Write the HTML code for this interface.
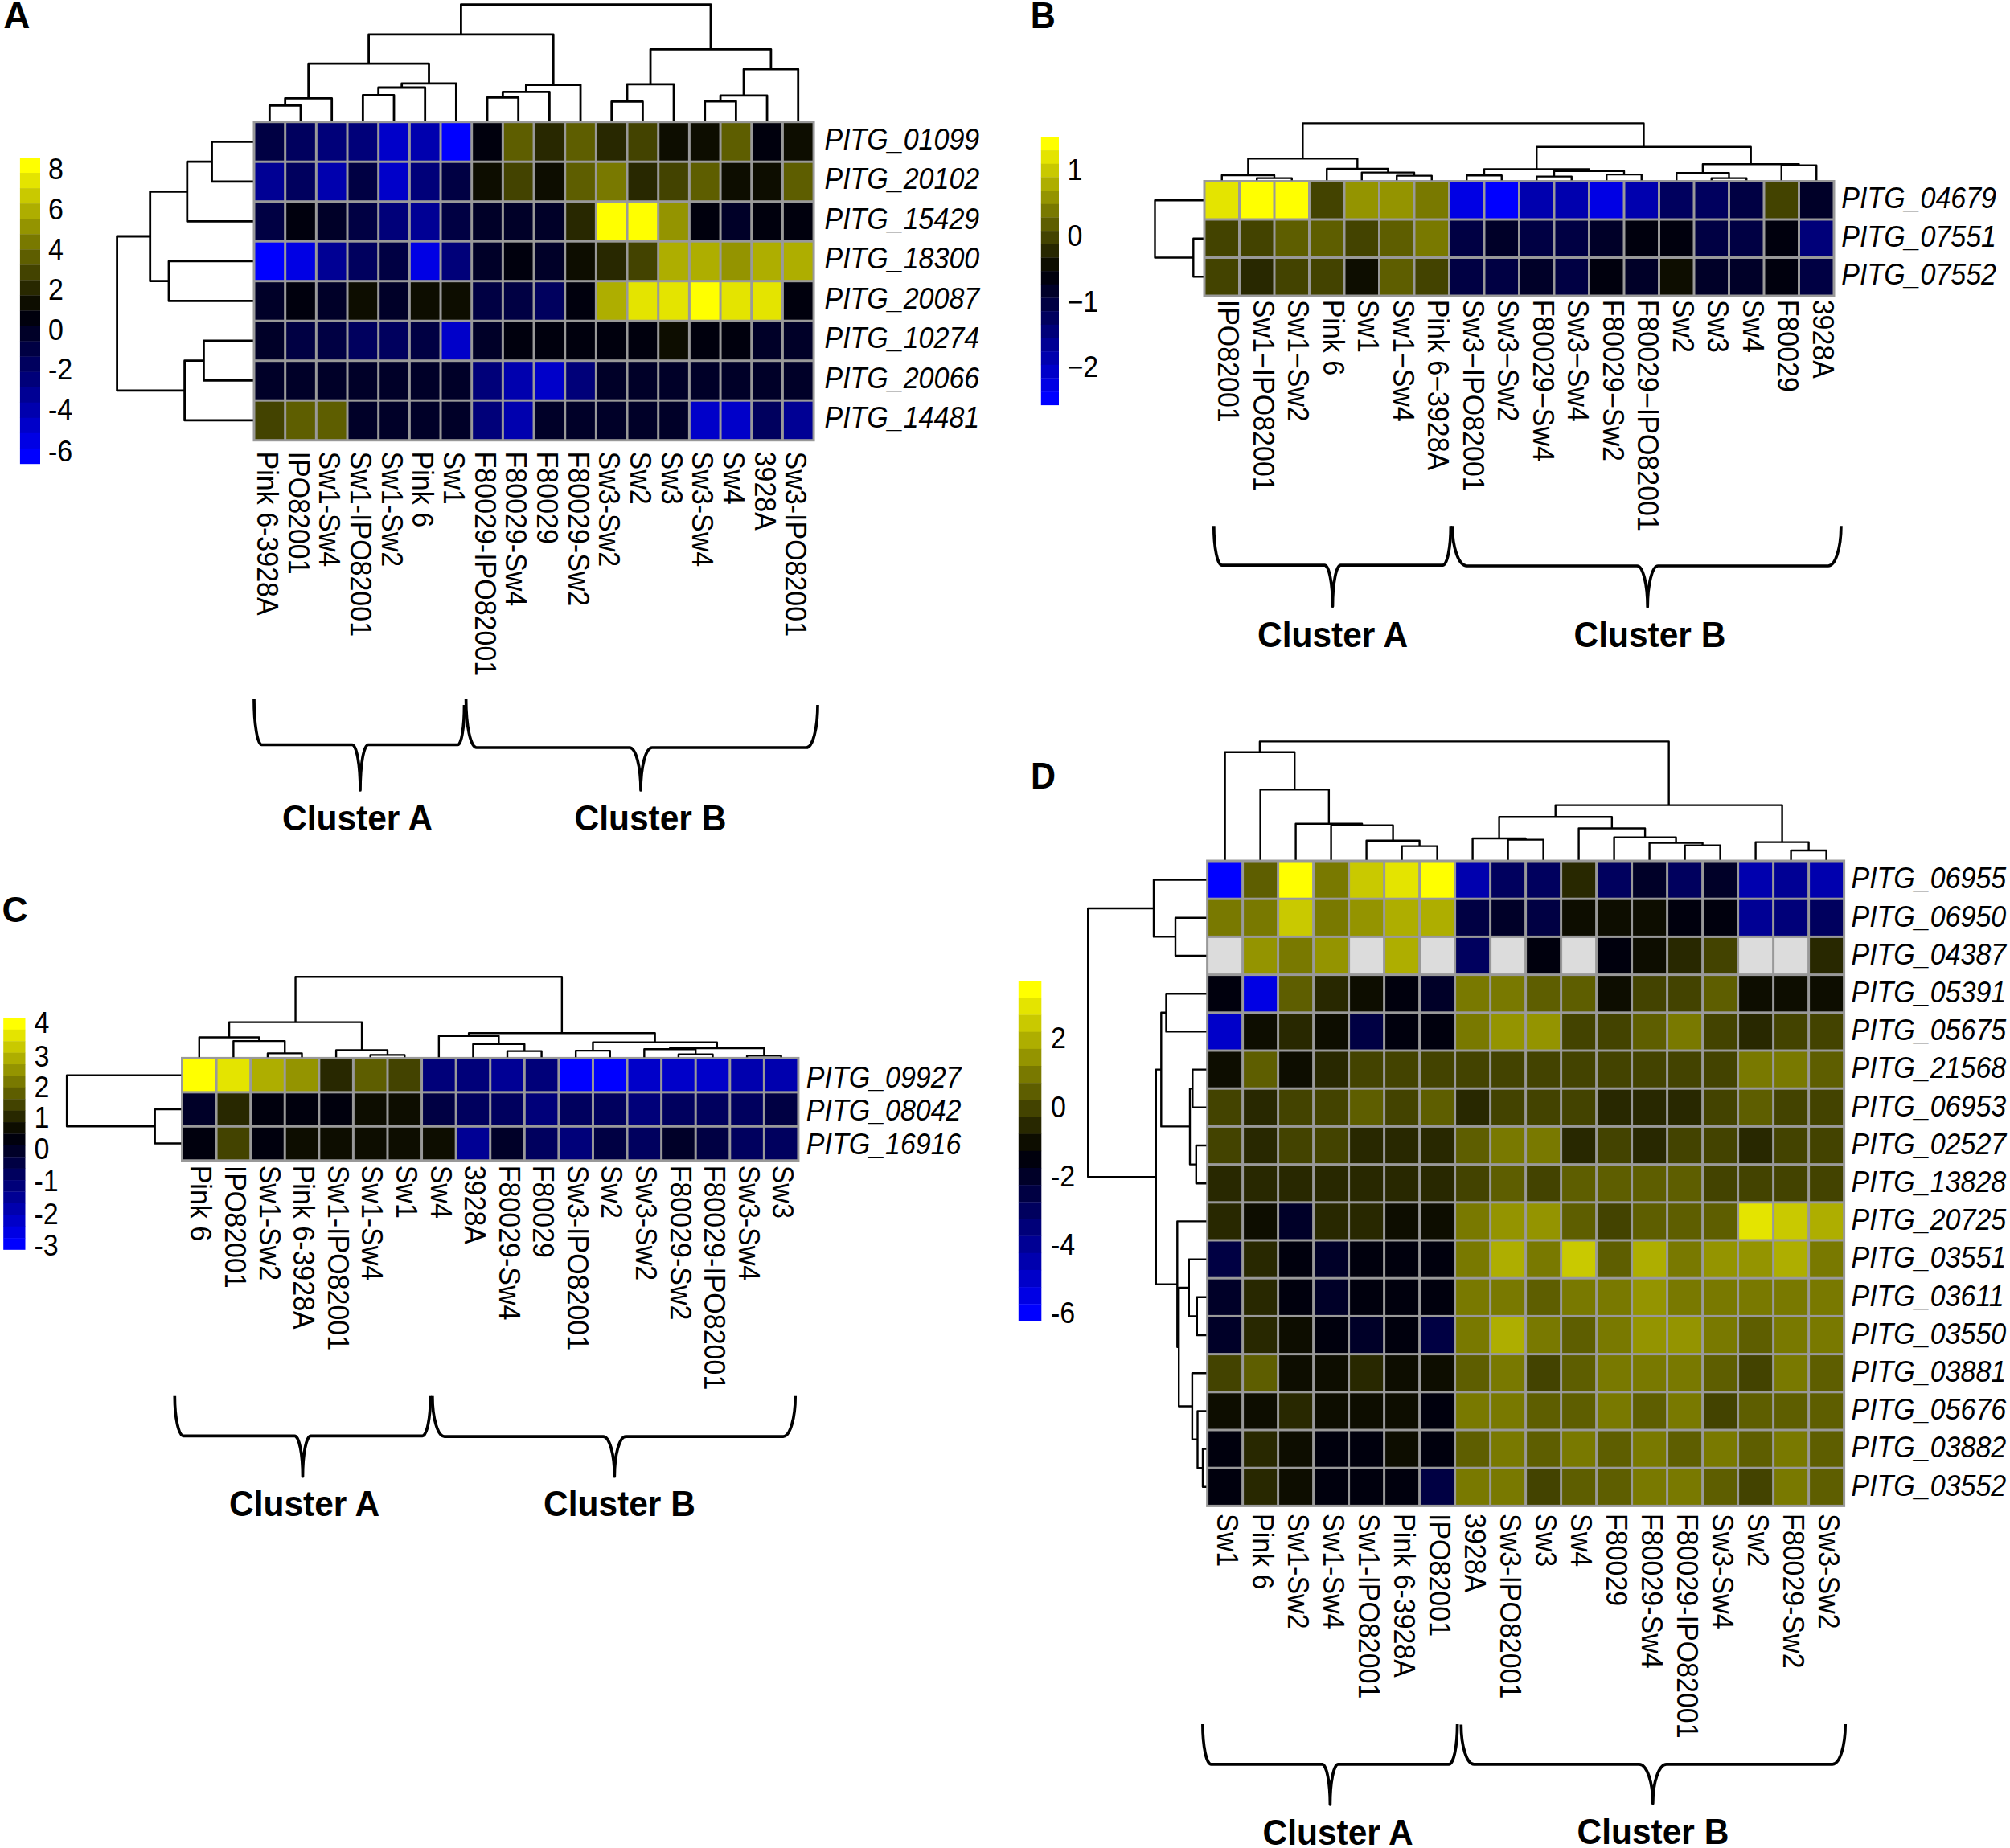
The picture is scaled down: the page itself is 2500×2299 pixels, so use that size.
<!DOCTYPE html>
<html><head><meta charset="utf-8"><title>Heatmaps</title>
<style>
html,body{margin:0;padding:0;background:#fff;}
body{width:2500px;height:2299px;overflow:hidden;}
svg{display:block;}
text{font-family:"Liberation Sans",Arial,sans-serif;fill:#000;}
</style></head><body>
<svg width="2500" height="2299" viewBox="0 0 2500 2299">
<rect width="2500" height="2299" fill="#fff"/>
<rect x="314.50" y="150.20" width="699.06" height="399.00" fill="#999999"/>
<rect x="317.50" y="153.20" width="35.67" height="46.50" fill="#000043"/>
<rect x="356.17" y="153.20" width="35.67" height="46.50" fill="#00005e"/>
<rect x="394.84" y="153.20" width="35.67" height="46.50" fill="#000079"/>
<rect x="433.51" y="153.20" width="35.67" height="46.50" fill="#000079"/>
<rect x="472.18" y="153.20" width="35.67" height="46.50" fill="#0000c9"/>
<rect x="510.85" y="153.20" width="35.67" height="46.50" fill="#0000ae"/>
<rect x="549.52" y="153.20" width="35.67" height="46.50" fill="#0000ff"/>
<rect x="588.19" y="153.20" width="35.67" height="46.50" fill="#00000d"/>
<rect x="626.86" y="153.20" width="35.67" height="46.50" fill="#5e5e00"/>
<rect x="665.53" y="153.20" width="35.67" height="46.50" fill="#282800"/>
<rect x="704.20" y="153.20" width="35.67" height="46.50" fill="#5e5e00"/>
<rect x="742.87" y="153.20" width="35.67" height="46.50" fill="#282800"/>
<rect x="781.54" y="153.20" width="35.67" height="46.50" fill="#434300"/>
<rect x="820.21" y="153.20" width="35.67" height="46.50" fill="#0d0d00"/>
<rect x="858.88" y="153.20" width="35.67" height="46.50" fill="#0d0d00"/>
<rect x="897.55" y="153.20" width="35.67" height="46.50" fill="#5e5e00"/>
<rect x="936.22" y="153.20" width="35.67" height="46.50" fill="#00000d"/>
<rect x="974.89" y="153.20" width="35.67" height="46.50" fill="#0d0d00"/>
<rect x="317.50" y="202.70" width="35.67" height="46.50" fill="#000094"/>
<rect x="356.17" y="202.70" width="35.67" height="46.50" fill="#00005e"/>
<rect x="394.84" y="202.70" width="35.67" height="46.50" fill="#0000ae"/>
<rect x="433.51" y="202.70" width="35.67" height="46.50" fill="#000043"/>
<rect x="472.18" y="202.70" width="35.67" height="46.50" fill="#0000c9"/>
<rect x="510.85" y="202.70" width="35.67" height="46.50" fill="#000079"/>
<rect x="549.52" y="202.70" width="35.67" height="46.50" fill="#000043"/>
<rect x="588.19" y="202.70" width="35.67" height="46.50" fill="#0d0d00"/>
<rect x="626.86" y="202.70" width="35.67" height="46.50" fill="#434300"/>
<rect x="665.53" y="202.70" width="35.67" height="46.50" fill="#0d0d00"/>
<rect x="704.20" y="202.70" width="35.67" height="46.50" fill="#5e5e00"/>
<rect x="742.87" y="202.70" width="35.67" height="46.50" fill="#797900"/>
<rect x="781.54" y="202.70" width="35.67" height="46.50" fill="#282800"/>
<rect x="820.21" y="202.70" width="35.67" height="46.50" fill="#434300"/>
<rect x="858.88" y="202.70" width="35.67" height="46.50" fill="#5e5e00"/>
<rect x="897.55" y="202.70" width="35.67" height="46.50" fill="#0d0d00"/>
<rect x="936.22" y="202.70" width="35.67" height="46.50" fill="#0d0d00"/>
<rect x="974.89" y="202.70" width="35.67" height="46.50" fill="#5e5e00"/>
<rect x="317.50" y="252.20" width="35.67" height="46.50" fill="#000043"/>
<rect x="356.17" y="252.20" width="35.67" height="46.50" fill="#00000d"/>
<rect x="394.84" y="252.20" width="35.67" height="46.50" fill="#000028"/>
<rect x="433.51" y="252.20" width="35.67" height="46.50" fill="#000043"/>
<rect x="472.18" y="252.20" width="35.67" height="46.50" fill="#000079"/>
<rect x="510.85" y="252.20" width="35.67" height="46.50" fill="#000094"/>
<rect x="549.52" y="252.20" width="35.67" height="46.50" fill="#000043"/>
<rect x="588.19" y="252.20" width="35.67" height="46.50" fill="#000028"/>
<rect x="626.86" y="252.20" width="35.67" height="46.50" fill="#000028"/>
<rect x="665.53" y="252.20" width="35.67" height="46.50" fill="#000028"/>
<rect x="704.20" y="252.20" width="35.67" height="46.50" fill="#282800"/>
<rect x="742.87" y="252.20" width="35.67" height="46.50" fill="#ffff00"/>
<rect x="781.54" y="252.20" width="35.67" height="46.50" fill="#ffff00"/>
<rect x="820.21" y="252.20" width="35.67" height="46.50" fill="#949400"/>
<rect x="858.88" y="252.20" width="35.67" height="46.50" fill="#00000d"/>
<rect x="897.55" y="252.20" width="35.67" height="46.50" fill="#000028"/>
<rect x="936.22" y="252.20" width="35.67" height="46.50" fill="#00000d"/>
<rect x="974.89" y="252.20" width="35.67" height="46.50" fill="#00000d"/>
<rect x="317.50" y="301.70" width="35.67" height="46.50" fill="#0000ff"/>
<rect x="356.17" y="301.70" width="35.67" height="46.50" fill="#0000e4"/>
<rect x="394.84" y="301.70" width="35.67" height="46.50" fill="#000094"/>
<rect x="433.51" y="301.70" width="35.67" height="46.50" fill="#00005e"/>
<rect x="472.18" y="301.70" width="35.67" height="46.50" fill="#000043"/>
<rect x="510.85" y="301.70" width="35.67" height="46.50" fill="#0000e4"/>
<rect x="549.52" y="301.70" width="35.67" height="46.50" fill="#000079"/>
<rect x="588.19" y="301.70" width="35.67" height="46.50" fill="#000028"/>
<rect x="626.86" y="301.70" width="35.67" height="46.50" fill="#00000d"/>
<rect x="665.53" y="301.70" width="35.67" height="46.50" fill="#000028"/>
<rect x="704.20" y="301.70" width="35.67" height="46.50" fill="#0d0d00"/>
<rect x="742.87" y="301.70" width="35.67" height="46.50" fill="#282800"/>
<rect x="781.54" y="301.70" width="35.67" height="46.50" fill="#434300"/>
<rect x="820.21" y="301.70" width="35.67" height="46.50" fill="#aeae00"/>
<rect x="858.88" y="301.70" width="35.67" height="46.50" fill="#aeae00"/>
<rect x="897.55" y="301.70" width="35.67" height="46.50" fill="#949400"/>
<rect x="936.22" y="301.70" width="35.67" height="46.50" fill="#aeae00"/>
<rect x="974.89" y="301.70" width="35.67" height="46.50" fill="#aeae00"/>
<rect x="317.50" y="351.20" width="35.67" height="46.50" fill="#000028"/>
<rect x="356.17" y="351.20" width="35.67" height="46.50" fill="#00000d"/>
<rect x="394.84" y="351.20" width="35.67" height="46.50" fill="#000028"/>
<rect x="433.51" y="351.20" width="35.67" height="46.50" fill="#0d0d00"/>
<rect x="472.18" y="351.20" width="35.67" height="46.50" fill="#000028"/>
<rect x="510.85" y="351.20" width="35.67" height="46.50" fill="#0d0d00"/>
<rect x="549.52" y="351.20" width="35.67" height="46.50" fill="#0d0d00"/>
<rect x="588.19" y="351.20" width="35.67" height="46.50" fill="#000043"/>
<rect x="626.86" y="351.20" width="35.67" height="46.50" fill="#000043"/>
<rect x="665.53" y="351.20" width="35.67" height="46.50" fill="#00005e"/>
<rect x="704.20" y="351.20" width="35.67" height="46.50" fill="#00000d"/>
<rect x="742.87" y="351.20" width="35.67" height="46.50" fill="#aeae00"/>
<rect x="781.54" y="351.20" width="35.67" height="46.50" fill="#e4e400"/>
<rect x="820.21" y="351.20" width="35.67" height="46.50" fill="#e4e400"/>
<rect x="858.88" y="351.20" width="35.67" height="46.50" fill="#ffff00"/>
<rect x="897.55" y="351.20" width="35.67" height="46.50" fill="#e4e400"/>
<rect x="936.22" y="351.20" width="35.67" height="46.50" fill="#e4e400"/>
<rect x="974.89" y="351.20" width="35.67" height="46.50" fill="#00000d"/>
<rect x="317.50" y="400.70" width="35.67" height="46.50" fill="#000028"/>
<rect x="356.17" y="400.70" width="35.67" height="46.50" fill="#000043"/>
<rect x="394.84" y="400.70" width="35.67" height="46.50" fill="#000043"/>
<rect x="433.51" y="400.70" width="35.67" height="46.50" fill="#00005e"/>
<rect x="472.18" y="400.70" width="35.67" height="46.50" fill="#00005e"/>
<rect x="510.85" y="400.70" width="35.67" height="46.50" fill="#000043"/>
<rect x="549.52" y="400.70" width="35.67" height="46.50" fill="#0000c9"/>
<rect x="588.19" y="400.70" width="35.67" height="46.50" fill="#000028"/>
<rect x="626.86" y="400.70" width="35.67" height="46.50" fill="#00000d"/>
<rect x="665.53" y="400.70" width="35.67" height="46.50" fill="#00000d"/>
<rect x="704.20" y="400.70" width="35.67" height="46.50" fill="#00000d"/>
<rect x="742.87" y="400.70" width="35.67" height="46.50" fill="#00000d"/>
<rect x="781.54" y="400.70" width="35.67" height="46.50" fill="#00000d"/>
<rect x="820.21" y="400.70" width="35.67" height="46.50" fill="#0d0d00"/>
<rect x="858.88" y="400.70" width="35.67" height="46.50" fill="#00000d"/>
<rect x="897.55" y="400.70" width="35.67" height="46.50" fill="#00000d"/>
<rect x="936.22" y="400.70" width="35.67" height="46.50" fill="#000028"/>
<rect x="974.89" y="400.70" width="35.67" height="46.50" fill="#000028"/>
<rect x="317.50" y="450.20" width="35.67" height="46.50" fill="#000028"/>
<rect x="356.17" y="450.20" width="35.67" height="46.50" fill="#000028"/>
<rect x="394.84" y="450.20" width="35.67" height="46.50" fill="#000028"/>
<rect x="433.51" y="450.20" width="35.67" height="46.50" fill="#000028"/>
<rect x="472.18" y="450.20" width="35.67" height="46.50" fill="#000028"/>
<rect x="510.85" y="450.20" width="35.67" height="46.50" fill="#000028"/>
<rect x="549.52" y="450.20" width="35.67" height="46.50" fill="#000028"/>
<rect x="588.19" y="450.20" width="35.67" height="46.50" fill="#000079"/>
<rect x="626.86" y="450.20" width="35.67" height="46.50" fill="#0000ae"/>
<rect x="665.53" y="450.20" width="35.67" height="46.50" fill="#0000c9"/>
<rect x="704.20" y="450.20" width="35.67" height="46.50" fill="#000079"/>
<rect x="742.87" y="450.20" width="35.67" height="46.50" fill="#000028"/>
<rect x="781.54" y="450.20" width="35.67" height="46.50" fill="#000028"/>
<rect x="820.21" y="450.20" width="35.67" height="46.50" fill="#000028"/>
<rect x="858.88" y="450.20" width="35.67" height="46.50" fill="#000028"/>
<rect x="897.55" y="450.20" width="35.67" height="46.50" fill="#000028"/>
<rect x="936.22" y="450.20" width="35.67" height="46.50" fill="#000028"/>
<rect x="974.89" y="450.20" width="35.67" height="46.50" fill="#000028"/>
<rect x="317.50" y="499.70" width="35.67" height="46.50" fill="#434300"/>
<rect x="356.17" y="499.70" width="35.67" height="46.50" fill="#5e5e00"/>
<rect x="394.84" y="499.70" width="35.67" height="46.50" fill="#5e5e00"/>
<rect x="433.51" y="499.70" width="35.67" height="46.50" fill="#000028"/>
<rect x="472.18" y="499.70" width="35.67" height="46.50" fill="#000028"/>
<rect x="510.85" y="499.70" width="35.67" height="46.50" fill="#000028"/>
<rect x="549.52" y="499.70" width="35.67" height="46.50" fill="#000028"/>
<rect x="588.19" y="499.70" width="35.67" height="46.50" fill="#000079"/>
<rect x="626.86" y="499.70" width="35.67" height="46.50" fill="#0000ae"/>
<rect x="665.53" y="499.70" width="35.67" height="46.50" fill="#000028"/>
<rect x="704.20" y="499.70" width="35.67" height="46.50" fill="#000028"/>
<rect x="742.87" y="499.70" width="35.67" height="46.50" fill="#000028"/>
<rect x="781.54" y="499.70" width="35.67" height="46.50" fill="#000028"/>
<rect x="820.21" y="499.70" width="35.67" height="46.50" fill="#000028"/>
<rect x="858.88" y="499.70" width="35.67" height="46.50" fill="#0000c9"/>
<rect x="897.55" y="499.70" width="35.67" height="46.50" fill="#0000c9"/>
<rect x="936.22" y="499.70" width="35.67" height="46.50" fill="#00005e"/>
<rect x="974.89" y="499.70" width="35.67" height="46.50" fill="#000094"/>
<path d="M335.33,150.45V131.30H374.00V150.45M354.67,131.30V122.40H412.68V150.45M451.35,150.45V118.40H490.01V150.45M470.68,118.40V109.00H528.68V150.45M499.68,109.00V103.90H567.36V150.45M383.67,122.40V79.20H533.52V103.90M606.03,150.45V121.40H644.69V150.45M625.36,121.40V114.40H683.37V150.45M654.36,114.40V105.50H722.04V150.45M458.60,79.20V42.80H688.20V105.50M760.71,150.45V126.40H799.38V150.45M780.04,126.40V104.90H838.05V150.45M876.72,150.45V126.00H915.38V150.45M896.05,126.00V118.80H954.06V150.45M925.05,118.80V86.20H992.73V150.45M809.04,104.90V61.30H958.89V86.20M573.40,42.80V5.60H883.97V61.30" fill="none" stroke="#000" stroke-width="2.8" stroke-linejoin="round" stroke-linecap="butt"/>
<path d="M314.75,176.45H263.50V225.95H314.75M263.50,201.20H232.80V275.45H314.75M314.75,324.95H210.00V374.45H314.75M232.80,238.32H186.70V349.70H210.00M314.75,423.95H253.40V473.45H314.75M253.40,448.70H229.60V522.95H314.75M186.70,294.01H145.60V485.83H229.60" fill="none" stroke="#000" stroke-width="2.8" stroke-linejoin="round" stroke-linecap="butt"/>
<text transform="translate(1025.50,185.75) scale(1,1.06)" font-size="34" font-style="italic">PITG_01099</text>
<text transform="translate(1025.50,235.25) scale(1,1.06)" font-size="34" font-style="italic">PITG_20102</text>
<text transform="translate(1025.50,284.75) scale(1,1.06)" font-size="34" font-style="italic">PITG_15429</text>
<text transform="translate(1025.50,334.25) scale(1,1.06)" font-size="34" font-style="italic">PITG_18300</text>
<text transform="translate(1025.50,383.75) scale(1,1.06)" font-size="34" font-style="italic">PITG_20087</text>
<text transform="translate(1025.50,433.25) scale(1,1.06)" font-size="34" font-style="italic">PITG_10274</text>
<text transform="translate(1025.50,482.75) scale(1,1.06)" font-size="34" font-style="italic">PITG_20066</text>
<text transform="translate(1025.50,532.25) scale(1,1.06)" font-size="34" font-style="italic">PITG_14481</text>
<text transform="translate(319.94,561.60) rotate(90) scale(1,1.06)" font-size="34">Pink 6-3928A</text>
<text transform="translate(358.61,561.60) rotate(90) scale(1,1.06)" font-size="34">IPO82001</text>
<text transform="translate(397.28,561.60) rotate(90) scale(1,1.06)" font-size="34">Sw1-Sw4</text>
<text transform="translate(435.95,561.60) rotate(90) scale(1,1.06)" font-size="34">Sw1-IPO82001</text>
<text transform="translate(474.62,561.60) rotate(90) scale(1,1.06)" font-size="34">Sw1-Sw2</text>
<text transform="translate(513.28,561.60) rotate(90) scale(1,1.06)" font-size="34">Pink 6</text>
<text transform="translate(551.96,561.60) rotate(90) scale(1,1.06)" font-size="34">Sw1</text>
<text transform="translate(590.63,561.60) rotate(90) scale(1,1.06)" font-size="34">F80029-IPO82001</text>
<text transform="translate(629.29,561.60) rotate(90) scale(1,1.06)" font-size="34">F80029-Sw4</text>
<text transform="translate(667.97,561.60) rotate(90) scale(1,1.06)" font-size="34">F80029</text>
<text transform="translate(706.64,561.60) rotate(90) scale(1,1.06)" font-size="34">F80029-Sw2</text>
<text transform="translate(745.31,561.60) rotate(90) scale(1,1.06)" font-size="34">Sw3-Sw2</text>
<text transform="translate(783.98,561.60) rotate(90) scale(1,1.06)" font-size="34">Sw2</text>
<text transform="translate(822.65,561.60) rotate(90) scale(1,1.06)" font-size="34">Sw3</text>
<text transform="translate(861.32,561.60) rotate(90) scale(1,1.06)" font-size="34">Sw3-Sw4</text>
<text transform="translate(899.99,561.60) rotate(90) scale(1,1.06)" font-size="34">Sw4</text>
<text transform="translate(938.66,561.60) rotate(90) scale(1,1.06)" font-size="34">3928A</text>
<text transform="translate(977.33,561.60) rotate(90) scale(1,1.06)" font-size="34">Sw3-IPO82001</text>
<rect x="24.90" y="196.00" width="25.10" height="19.34" fill="#ffff00"/>
<rect x="24.90" y="215.04" width="25.10" height="19.34" fill="#e4e400"/>
<rect x="24.90" y="234.09" width="25.10" height="19.34" fill="#c9c900"/>
<rect x="24.90" y="253.13" width="25.10" height="19.34" fill="#aeae00"/>
<rect x="24.90" y="272.18" width="25.10" height="19.34" fill="#949400"/>
<rect x="24.90" y="291.23" width="25.10" height="19.34" fill="#797900"/>
<rect x="24.90" y="310.27" width="25.10" height="19.34" fill="#5e5e00"/>
<rect x="24.90" y="329.31" width="25.10" height="19.34" fill="#434300"/>
<rect x="24.90" y="348.36" width="25.10" height="19.34" fill="#282800"/>
<rect x="24.90" y="367.40" width="25.10" height="19.34" fill="#0d0d00"/>
<rect x="24.90" y="386.45" width="25.10" height="19.34" fill="#00000d"/>
<rect x="24.90" y="405.50" width="25.10" height="19.34" fill="#000028"/>
<rect x="24.90" y="424.54" width="25.10" height="19.34" fill="#000043"/>
<rect x="24.90" y="443.58" width="25.10" height="19.34" fill="#00005e"/>
<rect x="24.90" y="462.63" width="25.10" height="19.34" fill="#000079"/>
<rect x="24.90" y="481.67" width="25.10" height="19.34" fill="#000094"/>
<rect x="24.90" y="500.72" width="25.10" height="19.34" fill="#0000ae"/>
<rect x="24.90" y="519.76" width="25.10" height="19.34" fill="#0000c9"/>
<rect x="24.90" y="538.81" width="25.10" height="19.34" fill="#0000e4"/>
<rect x="24.90" y="557.86" width="25.10" height="19.34" fill="#0000ff"/>
<text transform="translate(60.00,223.43) scale(1,1.06)" font-size="34">8</text>
<text transform="translate(60.00,273.43) scale(1,1.06)" font-size="34">6</text>
<text transform="translate(60.00,322.93) scale(1,1.06)" font-size="34">4</text>
<text transform="translate(60.00,372.83) scale(1,1.06)" font-size="34">2</text>
<text transform="translate(60.00,422.73) scale(1,1.06)" font-size="34">0</text>
<text transform="translate(60.00,472.43) scale(1,1.06)" font-size="34">-2</text>
<text transform="translate(60.00,521.93) scale(1,1.06)" font-size="34">-4</text>
<text transform="translate(60.00,574.13) scale(1,1.06)" font-size="34">-6</text>
<text transform="translate(4.2,34.8) scale(1.07,1.07)" font-size="43" font-weight="bold">A</text>
<path d="M316.00,870.00A9.50,56.50 0 0 0 325.50,926.50H438.00A10.00,56.50 0 0 1 448.00,983.00A10.00,56.50 0 0 1 458.00,926.50H569.50A8.00,49.50 0 0 0 577.50,877.00" fill="none" stroke="#000" stroke-width="3.7" stroke-linecap="butt" stroke-linejoin="round"/>
<path d="M579.60,870.00A13.00,60.00 0 0 0 592.60,930.00H783.00A14.00,53.00 0 0 1 797.00,983.00A14.00,53.00 0 0 1 811.00,930.00H1003.00A14.00,53.00 0 0 0 1017.00,877.00" fill="none" stroke="#000" stroke-width="3.7" stroke-linecap="butt" stroke-linejoin="round"/>
<text transform="translate(351.00,1032.80) scale(1,1.04)" font-size="42.5" font-weight="bold">Cluster A</text>
<text transform="translate(714.50,1032.80) scale(1,1.04)" font-size="42.5" font-weight="bold">Cluster B</text>
<rect x="1496.50" y="224.00" width="786.00" height="145.50" fill="#999999"/>
<rect x="1499.50" y="227.00" width="40.50" height="44.50" fill="#e4e400"/>
<rect x="1543.00" y="227.00" width="40.50" height="44.50" fill="#ffff00"/>
<rect x="1586.50" y="227.00" width="40.50" height="44.50" fill="#ffff00"/>
<rect x="1630.00" y="227.00" width="40.50" height="44.50" fill="#434300"/>
<rect x="1673.50" y="227.00" width="40.50" height="44.50" fill="#949400"/>
<rect x="1717.00" y="227.00" width="40.50" height="44.50" fill="#949400"/>
<rect x="1760.50" y="227.00" width="40.50" height="44.50" fill="#797900"/>
<rect x="1804.00" y="227.00" width="40.50" height="44.50" fill="#0000e4"/>
<rect x="1847.50" y="227.00" width="40.50" height="44.50" fill="#0000ff"/>
<rect x="1891.00" y="227.00" width="40.50" height="44.50" fill="#0000ae"/>
<rect x="1934.50" y="227.00" width="40.50" height="44.50" fill="#0000ae"/>
<rect x="1978.00" y="227.00" width="40.50" height="44.50" fill="#0000e4"/>
<rect x="2021.50" y="227.00" width="40.50" height="44.50" fill="#0000ae"/>
<rect x="2065.00" y="227.00" width="40.50" height="44.50" fill="#00005e"/>
<rect x="2108.50" y="227.00" width="40.50" height="44.50" fill="#00005e"/>
<rect x="2152.00" y="227.00" width="40.50" height="44.50" fill="#000043"/>
<rect x="2195.50" y="227.00" width="40.50" height="44.50" fill="#434300"/>
<rect x="2239.00" y="227.00" width="40.50" height="44.50" fill="#000028"/>
<rect x="1499.50" y="274.50" width="40.50" height="44.50" fill="#434300"/>
<rect x="1543.00" y="274.50" width="40.50" height="44.50" fill="#434300"/>
<rect x="1586.50" y="274.50" width="40.50" height="44.50" fill="#5e5e00"/>
<rect x="1630.00" y="274.50" width="40.50" height="44.50" fill="#5e5e00"/>
<rect x="1673.50" y="274.50" width="40.50" height="44.50" fill="#434300"/>
<rect x="1717.00" y="274.50" width="40.50" height="44.50" fill="#5e5e00"/>
<rect x="1760.50" y="274.50" width="40.50" height="44.50" fill="#797900"/>
<rect x="1804.00" y="274.50" width="40.50" height="44.50" fill="#000043"/>
<rect x="1847.50" y="274.50" width="40.50" height="44.50" fill="#000028"/>
<rect x="1891.00" y="274.50" width="40.50" height="44.50" fill="#000043"/>
<rect x="1934.50" y="274.50" width="40.50" height="44.50" fill="#000043"/>
<rect x="1978.00" y="274.50" width="40.50" height="44.50" fill="#000028"/>
<rect x="2021.50" y="274.50" width="40.50" height="44.50" fill="#00000d"/>
<rect x="2065.00" y="274.50" width="40.50" height="44.50" fill="#00000d"/>
<rect x="2108.50" y="274.50" width="40.50" height="44.50" fill="#000043"/>
<rect x="2152.00" y="274.50" width="40.50" height="44.50" fill="#000043"/>
<rect x="2195.50" y="274.50" width="40.50" height="44.50" fill="#00000d"/>
<rect x="2239.00" y="274.50" width="40.50" height="44.50" fill="#000079"/>
<rect x="1499.50" y="322.00" width="40.50" height="44.50" fill="#434300"/>
<rect x="1543.00" y="322.00" width="40.50" height="44.50" fill="#282800"/>
<rect x="1586.50" y="322.00" width="40.50" height="44.50" fill="#434300"/>
<rect x="1630.00" y="322.00" width="40.50" height="44.50" fill="#434300"/>
<rect x="1673.50" y="322.00" width="40.50" height="44.50" fill="#0d0d00"/>
<rect x="1717.00" y="322.00" width="40.50" height="44.50" fill="#5e5e00"/>
<rect x="1760.50" y="322.00" width="40.50" height="44.50" fill="#434300"/>
<rect x="1804.00" y="322.00" width="40.50" height="44.50" fill="#000043"/>
<rect x="1847.50" y="322.00" width="40.50" height="44.50" fill="#000043"/>
<rect x="1891.00" y="322.00" width="40.50" height="44.50" fill="#000028"/>
<rect x="1934.50" y="322.00" width="40.50" height="44.50" fill="#000043"/>
<rect x="1978.00" y="322.00" width="40.50" height="44.50" fill="#00000d"/>
<rect x="2021.50" y="322.00" width="40.50" height="44.50" fill="#000028"/>
<rect x="2065.00" y="322.00" width="40.50" height="44.50" fill="#0d0d00"/>
<rect x="2108.50" y="322.00" width="40.50" height="44.50" fill="#000028"/>
<rect x="2152.00" y="322.00" width="40.50" height="44.50" fill="#000028"/>
<rect x="2195.50" y="322.00" width="40.50" height="44.50" fill="#00000d"/>
<rect x="2239.00" y="322.00" width="40.50" height="44.50" fill="#000043"/>
<path d="M1563.25,224.25V221.60H1606.75V224.25M1519.75,224.25V218.00H1585.00V221.60M1737.25,224.25V218.60H1780.75V224.25M1693.75,224.25V214.60H1759.00V218.60M1650.25,224.25V210.00H1726.38V214.60M1552.38,218.00V197.30H1688.31V210.00M1824.25,224.25V218.20H1867.75V224.25M1911.25,224.25V219.60H1954.75V224.25M1998.25,224.25V217.10H2041.75V224.25M1933.00,219.60V212.80H2020.00V217.10M1846.00,218.20V210.40H1976.50V212.80M2128.75,224.25V221.60H2172.25V224.25M2085.25,224.25V215.10H2150.50V221.60M2215.75,224.25V205.70H2259.25V224.25M2117.88,215.10V204.30H2237.50V205.70M1911.25,210.40V182.80H2177.69V204.30M1620.34,197.30V153.40H2044.47V182.80" fill="none" stroke="#000" stroke-width="2.4" stroke-linejoin="round" stroke-linecap="butt"/>
<path d="M1496.75,296.75H1484.30V344.25H1496.75M1496.75,249.25H1436.50V320.50H1484.30" fill="none" stroke="#000" stroke-width="2.4" stroke-linejoin="round" stroke-linecap="butt"/>
<text transform="translate(2290.30,259.00) scale(1,1.06)" font-size="34" font-style="italic">PITG_04679</text>
<text transform="translate(2290.30,306.50) scale(1,1.06)" font-size="34" font-style="italic">PITG_07551</text>
<text transform="translate(2290.30,354.00) scale(1,1.06)" font-size="34" font-style="italic">PITG_07552</text>
<text transform="translate(1515.35,372.70) rotate(90) scale(1,1.06)" font-size="34">IPO82001</text>
<text transform="translate(1558.85,372.70) rotate(90) scale(1,1.06)" font-size="34">Sw1−IPO82001</text>
<text transform="translate(1602.35,372.70) rotate(90) scale(1,1.06)" font-size="34">Sw1−Sw2</text>
<text transform="translate(1645.85,372.70) rotate(90) scale(1,1.06)" font-size="34">Pink 6</text>
<text transform="translate(1689.35,372.70) rotate(90) scale(1,1.06)" font-size="34">Sw1</text>
<text transform="translate(1732.85,372.70) rotate(90) scale(1,1.06)" font-size="34">Sw1−Sw4</text>
<text transform="translate(1776.35,372.70) rotate(90) scale(1,1.06)" font-size="34">Pink 6−3928A</text>
<text transform="translate(1819.85,372.70) rotate(90) scale(1,1.06)" font-size="34">Sw3−IPO82001</text>
<text transform="translate(1863.35,372.70) rotate(90) scale(1,1.06)" font-size="34">Sw3−Sw2</text>
<text transform="translate(1906.85,372.70) rotate(90) scale(1,1.06)" font-size="34">F80029−Sw4</text>
<text transform="translate(1950.35,372.70) rotate(90) scale(1,1.06)" font-size="34">Sw3−Sw4</text>
<text transform="translate(1993.85,372.70) rotate(90) scale(1,1.06)" font-size="34">F80029−Sw2</text>
<text transform="translate(2037.35,372.70) rotate(90) scale(1,1.06)" font-size="34">F80029−IPO82001</text>
<text transform="translate(2080.85,372.70) rotate(90) scale(1,1.06)" font-size="34">Sw2</text>
<text transform="translate(2124.35,372.70) rotate(90) scale(1,1.06)" font-size="34">Sw3</text>
<text transform="translate(2167.85,372.70) rotate(90) scale(1,1.06)" font-size="34">Sw4</text>
<text transform="translate(2211.35,372.70) rotate(90) scale(1,1.06)" font-size="34">F80029</text>
<text transform="translate(2254.85,372.70) rotate(90) scale(1,1.06)" font-size="34">3928A</text>
<rect x="1294.80" y="170.40" width="22.20" height="16.97" fill="#ffff00"/>
<rect x="1294.80" y="187.07" width="22.20" height="16.97" fill="#e4e400"/>
<rect x="1294.80" y="203.74" width="22.20" height="16.97" fill="#c9c900"/>
<rect x="1294.80" y="220.41" width="22.20" height="16.97" fill="#aeae00"/>
<rect x="1294.80" y="237.08" width="22.20" height="16.97" fill="#949400"/>
<rect x="1294.80" y="253.75" width="22.20" height="16.97" fill="#797900"/>
<rect x="1294.80" y="270.42" width="22.20" height="16.97" fill="#5e5e00"/>
<rect x="1294.80" y="287.09" width="22.20" height="16.97" fill="#434300"/>
<rect x="1294.80" y="303.76" width="22.20" height="16.97" fill="#282800"/>
<rect x="1294.80" y="320.43" width="22.20" height="16.97" fill="#0d0d00"/>
<rect x="1294.80" y="337.10" width="22.20" height="16.97" fill="#00000d"/>
<rect x="1294.80" y="353.77" width="22.20" height="16.97" fill="#000028"/>
<rect x="1294.80" y="370.44" width="22.20" height="16.97" fill="#000043"/>
<rect x="1294.80" y="387.11" width="22.20" height="16.97" fill="#00005e"/>
<rect x="1294.80" y="403.78" width="22.20" height="16.97" fill="#000079"/>
<rect x="1294.80" y="420.45" width="22.20" height="16.97" fill="#000094"/>
<rect x="1294.80" y="437.12" width="22.20" height="16.97" fill="#0000ae"/>
<rect x="1294.80" y="453.79" width="22.20" height="16.97" fill="#0000c9"/>
<rect x="1294.80" y="470.46" width="22.20" height="16.97" fill="#0000e4"/>
<rect x="1294.80" y="487.13" width="22.20" height="16.97" fill="#0000ff"/>
<text transform="translate(1327.50,223.93) scale(1,1.06)" font-size="34">1</text>
<text transform="translate(1327.50,306.03) scale(1,1.06)" font-size="34">0</text>
<text transform="translate(1327.50,387.53) scale(1,1.06)" font-size="34">−1</text>
<text transform="translate(1327.50,468.53) scale(1,1.06)" font-size="34">−2</text>
<text transform="translate(1281.8,34.9) scale(1,1.09)" font-size="43" font-weight="bold">B</text>
<path d="M1509.80,654.30A10.00,48.90 0 0 0 1519.80,703.20H1647.50A10.00,51.00 0 0 1 1657.50,754.20A10.00,51.00 0 0 1 1667.50,703.20H1794.40A10.00,48.90 0 0 0 1804.40,654.30" fill="none" stroke="#000" stroke-width="3.7" stroke-linecap="butt" stroke-linejoin="round"/>
<path d="M1806.40,654.30A18.00,49.70 0 0 0 1824.40,704.00H2036.20A13.00,51.00 0 0 1 2049.20,755.00A13.00,51.00 0 0 1 2062.20,704.00H2273.90A16.00,49.70 0 0 0 2289.90,654.30" fill="none" stroke="#000" stroke-width="3.7" stroke-linecap="butt" stroke-linejoin="round"/>
<text transform="translate(1564.00,805.20) scale(1,1.04)" font-size="42.5" font-weight="bold">Cluster A</text>
<text transform="translate(1957.50,805.20) scale(1,1.04)" font-size="42.5" font-weight="bold">Cluster B</text>
<rect x="225.00" y="1314.90" width="769.44" height="130.35" fill="#999999"/>
<rect x="228.00" y="1317.90" width="39.58" height="39.45" fill="#ffff00"/>
<rect x="270.58" y="1317.90" width="39.58" height="39.45" fill="#e4e400"/>
<rect x="313.16" y="1317.90" width="39.58" height="39.45" fill="#aeae00"/>
<rect x="355.74" y="1317.90" width="39.58" height="39.45" fill="#949400"/>
<rect x="398.32" y="1317.90" width="39.58" height="39.45" fill="#282800"/>
<rect x="440.90" y="1317.90" width="39.58" height="39.45" fill="#5e5e00"/>
<rect x="483.48" y="1317.90" width="39.58" height="39.45" fill="#434300"/>
<rect x="526.06" y="1317.90" width="39.58" height="39.45" fill="#000079"/>
<rect x="568.64" y="1317.90" width="39.58" height="39.45" fill="#000079"/>
<rect x="611.22" y="1317.90" width="39.58" height="39.45" fill="#000094"/>
<rect x="653.80" y="1317.90" width="39.58" height="39.45" fill="#000079"/>
<rect x="696.38" y="1317.90" width="39.58" height="39.45" fill="#0000ff"/>
<rect x="738.96" y="1317.90" width="39.58" height="39.45" fill="#0000ff"/>
<rect x="781.54" y="1317.90" width="39.58" height="39.45" fill="#0000c9"/>
<rect x="824.12" y="1317.90" width="39.58" height="39.45" fill="#0000c9"/>
<rect x="866.70" y="1317.90" width="39.58" height="39.45" fill="#0000c9"/>
<rect x="909.28" y="1317.90" width="39.58" height="39.45" fill="#0000ae"/>
<rect x="951.86" y="1317.90" width="39.58" height="39.45" fill="#0000ae"/>
<rect x="228.00" y="1360.35" width="39.58" height="39.45" fill="#000028"/>
<rect x="270.58" y="1360.35" width="39.58" height="39.45" fill="#282800"/>
<rect x="313.16" y="1360.35" width="39.58" height="39.45" fill="#00000d"/>
<rect x="355.74" y="1360.35" width="39.58" height="39.45" fill="#00000d"/>
<rect x="398.32" y="1360.35" width="39.58" height="39.45" fill="#00000d"/>
<rect x="440.90" y="1360.35" width="39.58" height="39.45" fill="#0d0d00"/>
<rect x="483.48" y="1360.35" width="39.58" height="39.45" fill="#0d0d00"/>
<rect x="526.06" y="1360.35" width="39.58" height="39.45" fill="#000043"/>
<rect x="568.64" y="1360.35" width="39.58" height="39.45" fill="#00005e"/>
<rect x="611.22" y="1360.35" width="39.58" height="39.45" fill="#00005e"/>
<rect x="653.80" y="1360.35" width="39.58" height="39.45" fill="#000079"/>
<rect x="696.38" y="1360.35" width="39.58" height="39.45" fill="#00005e"/>
<rect x="738.96" y="1360.35" width="39.58" height="39.45" fill="#00005e"/>
<rect x="781.54" y="1360.35" width="39.58" height="39.45" fill="#000079"/>
<rect x="824.12" y="1360.35" width="39.58" height="39.45" fill="#00005e"/>
<rect x="866.70" y="1360.35" width="39.58" height="39.45" fill="#00005e"/>
<rect x="909.28" y="1360.35" width="39.58" height="39.45" fill="#00005e"/>
<rect x="951.86" y="1360.35" width="39.58" height="39.45" fill="#000043"/>
<rect x="228.00" y="1402.80" width="39.58" height="39.45" fill="#00000d"/>
<rect x="270.58" y="1402.80" width="39.58" height="39.45" fill="#434300"/>
<rect x="313.16" y="1402.80" width="39.58" height="39.45" fill="#00000d"/>
<rect x="355.74" y="1402.80" width="39.58" height="39.45" fill="#0d0d00"/>
<rect x="398.32" y="1402.80" width="39.58" height="39.45" fill="#0d0d00"/>
<rect x="440.90" y="1402.80" width="39.58" height="39.45" fill="#0d0d00"/>
<rect x="483.48" y="1402.80" width="39.58" height="39.45" fill="#0d0d00"/>
<rect x="526.06" y="1402.80" width="39.58" height="39.45" fill="#0d0d00"/>
<rect x="568.64" y="1402.80" width="39.58" height="39.45" fill="#000094"/>
<rect x="611.22" y="1402.80" width="39.58" height="39.45" fill="#000028"/>
<rect x="653.80" y="1402.80" width="39.58" height="39.45" fill="#00005e"/>
<rect x="696.38" y="1402.80" width="39.58" height="39.45" fill="#000079"/>
<rect x="738.96" y="1402.80" width="39.58" height="39.45" fill="#000043"/>
<rect x="781.54" y="1402.80" width="39.58" height="39.45" fill="#00005e"/>
<rect x="824.12" y="1402.80" width="39.58" height="39.45" fill="#000028"/>
<rect x="866.70" y="1402.80" width="39.58" height="39.45" fill="#000043"/>
<rect x="909.28" y="1402.80" width="39.58" height="39.45" fill="#00005e"/>
<rect x="951.86" y="1402.80" width="39.58" height="39.45" fill="#00005e"/>
<path d="M332.95,1315.15V1310.40H375.53V1315.15M290.37,1315.15V1295.10H354.24V1310.40M247.79,1315.15V1290.50H322.31V1295.10M460.69,1315.15V1312.40H503.27V1315.15M418.11,1315.15V1306.50H481.98V1312.40M285.05,1290.50V1271.60H450.05V1306.50M631.01,1315.15V1307.60H673.59V1315.15M588.43,1315.15V1298.90H652.30V1307.60M545.85,1315.15V1288.80H620.37V1298.90M716.17,1315.15V1307.10H758.75V1315.15M843.91,1315.15V1311.80H886.49V1315.15M801.33,1315.15V1305.20H865.20V1311.80M929.07,1315.15V1313.40H971.65V1315.15M833.26,1305.20V1304.00H950.36V1313.40M737.46,1307.10V1296.60H891.81V1304.00M583.11,1288.80V1285.30H814.64V1296.60M367.55,1271.60V1215.20H698.87V1285.30" fill="none" stroke="#000" stroke-width="2.4" stroke-linejoin="round" stroke-linecap="butt"/>
<path d="M225.25,1380.08H192.70V1422.53H225.25M225.25,1337.62H83.10V1401.30H192.70" fill="none" stroke="#000" stroke-width="2.4" stroke-linejoin="round" stroke-linecap="butt"/>
<text transform="translate(1002.80,1352.50) scale(1,1.06)" font-size="34" font-style="italic">PITG_09927</text>
<text transform="translate(1002.80,1394.30) scale(1,1.06)" font-size="34" font-style="italic">PITG_08042</text>
<text transform="translate(1002.80,1435.50) scale(1,1.06)" font-size="34" font-style="italic">PITG_16916</text>
<text transform="translate(237.49,1449.70) rotate(90) scale(1,1.06)" font-size="34">Pink 6</text>
<text transform="translate(280.07,1449.70) rotate(90) scale(1,1.06)" font-size="34">IPO82001</text>
<text transform="translate(322.65,1449.70) rotate(90) scale(1,1.06)" font-size="34">Sw1-Sw2</text>
<text transform="translate(365.23,1449.70) rotate(90) scale(1,1.06)" font-size="34">Pink 6-3928A</text>
<text transform="translate(407.81,1449.70) rotate(90) scale(1,1.06)" font-size="34">Sw1-IPO82001</text>
<text transform="translate(450.39,1449.70) rotate(90) scale(1,1.06)" font-size="34">Sw1-Sw4</text>
<text transform="translate(492.97,1449.70) rotate(90) scale(1,1.06)" font-size="34">Sw1</text>
<text transform="translate(535.55,1449.70) rotate(90) scale(1,1.06)" font-size="34">Sw4</text>
<text transform="translate(578.13,1449.70) rotate(90) scale(1,1.06)" font-size="34">3928A</text>
<text transform="translate(620.71,1449.70) rotate(90) scale(1,1.06)" font-size="34">F80029-Sw4</text>
<text transform="translate(663.29,1449.70) rotate(90) scale(1,1.06)" font-size="34">F80029</text>
<text transform="translate(705.87,1449.70) rotate(90) scale(1,1.06)" font-size="34">Sw3-IPO82001</text>
<text transform="translate(748.45,1449.70) rotate(90) scale(1,1.06)" font-size="34">Sw2</text>
<text transform="translate(791.03,1449.70) rotate(90) scale(1,1.06)" font-size="34">Sw3-Sw2</text>
<text transform="translate(833.61,1449.70) rotate(90) scale(1,1.06)" font-size="34">F80029-Sw2</text>
<text transform="translate(876.19,1449.70) rotate(90) scale(1,1.06)" font-size="34">F80029-IPO82001</text>
<text transform="translate(918.77,1449.70) rotate(90) scale(1,1.06)" font-size="34">Sw3-Sw4</text>
<text transform="translate(961.35,1449.70) rotate(90) scale(1,1.06)" font-size="34">Sw3</text>
<rect x="4.20" y="1266.40" width="27.30" height="14.71" fill="#ffff00"/>
<rect x="4.20" y="1280.81" width="27.30" height="14.71" fill="#e4e400"/>
<rect x="4.20" y="1295.21" width="27.30" height="14.71" fill="#c9c900"/>
<rect x="4.20" y="1309.62" width="27.30" height="14.71" fill="#aeae00"/>
<rect x="4.20" y="1324.02" width="27.30" height="14.71" fill="#949400"/>
<rect x="4.20" y="1338.43" width="27.30" height="14.71" fill="#797900"/>
<rect x="4.20" y="1352.83" width="27.30" height="14.71" fill="#5e5e00"/>
<rect x="4.20" y="1367.24" width="27.30" height="14.71" fill="#434300"/>
<rect x="4.20" y="1381.64" width="27.30" height="14.71" fill="#282800"/>
<rect x="4.20" y="1396.05" width="27.30" height="14.71" fill="#0d0d00"/>
<rect x="4.20" y="1410.45" width="27.30" height="14.71" fill="#00000d"/>
<rect x="4.20" y="1424.86" width="27.30" height="14.71" fill="#000028"/>
<rect x="4.20" y="1439.26" width="27.30" height="14.71" fill="#000043"/>
<rect x="4.20" y="1453.67" width="27.30" height="14.71" fill="#00005e"/>
<rect x="4.20" y="1468.07" width="27.30" height="14.71" fill="#000079"/>
<rect x="4.20" y="1482.48" width="27.30" height="14.71" fill="#000094"/>
<rect x="4.20" y="1496.88" width="27.30" height="14.71" fill="#0000ae"/>
<rect x="4.20" y="1511.29" width="27.30" height="14.71" fill="#0000c9"/>
<rect x="4.20" y="1525.69" width="27.30" height="14.71" fill="#0000e4"/>
<rect x="4.20" y="1540.10" width="27.30" height="14.71" fill="#0000ff"/>
<text transform="translate(42.40,1284.73) scale(1,1.06)" font-size="34">4</text>
<text transform="translate(42.40,1326.63) scale(1,1.06)" font-size="34">3</text>
<text transform="translate(42.40,1365.43) scale(1,1.06)" font-size="34">2</text>
<text transform="translate(42.40,1403.13) scale(1,1.06)" font-size="34">1</text>
<text transform="translate(42.40,1442.13) scale(1,1.06)" font-size="34">0</text>
<text transform="translate(42.40,1481.93) scale(1,1.06)" font-size="34">-1</text>
<text transform="translate(42.40,1522.53) scale(1,1.06)" font-size="34">-2</text>
<text transform="translate(42.40,1561.93) scale(1,1.06)" font-size="34">-3</text>
<text transform="translate(2.5,1147) scale(1.04,1.05)" font-size="43" font-weight="bold">C</text>
<path d="M217.30,1736.70A11.00,49.60 0 0 0 228.30,1786.30H366.50A10.00,50.40 0 0 1 376.50,1836.70A10.00,50.40 0 0 1 386.50,1786.30H525.40A10.00,49.60 0 0 0 535.40,1736.70" fill="none" stroke="#000" stroke-width="3.7" stroke-linecap="butt" stroke-linejoin="round"/>
<path d="M537.80,1736.70A15.00,50.40 0 0 0 552.80,1787.10H750.30A14.00,49.60 0 0 1 764.30,1836.70A14.00,49.60 0 0 1 778.30,1787.10H974.20A15.00,50.40 0 0 0 989.20,1736.70" fill="none" stroke="#000" stroke-width="3.7" stroke-linecap="butt" stroke-linejoin="round"/>
<text transform="translate(285.00,1885.90) scale(1,1.04)" font-size="42.5" font-weight="bold">Cluster A</text>
<text transform="translate(676.00,1885.90) scale(1,1.04)" font-size="42.5" font-weight="bold">Cluster B</text>
<rect x="1500.10" y="1069.50" width="795.00" height="805.40" fill="#999999"/>
<rect x="1503.10" y="1072.50" width="41.00" height="44.20" fill="#0000ff"/>
<rect x="1547.10" y="1072.50" width="41.00" height="44.20" fill="#5e5e00"/>
<rect x="1591.10" y="1072.50" width="41.00" height="44.20" fill="#ffff00"/>
<rect x="1635.10" y="1072.50" width="41.00" height="44.20" fill="#797900"/>
<rect x="1679.10" y="1072.50" width="41.00" height="44.20" fill="#c9c900"/>
<rect x="1723.10" y="1072.50" width="41.00" height="44.20" fill="#e4e400"/>
<rect x="1767.10" y="1072.50" width="41.00" height="44.20" fill="#ffff00"/>
<rect x="1811.10" y="1072.50" width="41.00" height="44.20" fill="#0000ae"/>
<rect x="1855.10" y="1072.50" width="41.00" height="44.20" fill="#00005e"/>
<rect x="1899.10" y="1072.50" width="41.00" height="44.20" fill="#00005e"/>
<rect x="1943.10" y="1072.50" width="41.00" height="44.20" fill="#282800"/>
<rect x="1987.10" y="1072.50" width="41.00" height="44.20" fill="#00005e"/>
<rect x="2031.10" y="1072.50" width="41.00" height="44.20" fill="#000028"/>
<rect x="2075.10" y="1072.50" width="41.00" height="44.20" fill="#00005e"/>
<rect x="2119.10" y="1072.50" width="41.00" height="44.20" fill="#000028"/>
<rect x="2163.10" y="1072.50" width="41.00" height="44.20" fill="#0000ae"/>
<rect x="2207.10" y="1072.50" width="41.00" height="44.20" fill="#000094"/>
<rect x="2251.10" y="1072.50" width="41.00" height="44.20" fill="#0000ae"/>
<rect x="1503.10" y="1119.70" width="41.00" height="44.20" fill="#797900"/>
<rect x="1547.10" y="1119.70" width="41.00" height="44.20" fill="#797900"/>
<rect x="1591.10" y="1119.70" width="41.00" height="44.20" fill="#c9c900"/>
<rect x="1635.10" y="1119.70" width="41.00" height="44.20" fill="#797900"/>
<rect x="1679.10" y="1119.70" width="41.00" height="44.20" fill="#949400"/>
<rect x="1723.10" y="1119.70" width="41.00" height="44.20" fill="#aeae00"/>
<rect x="1767.10" y="1119.70" width="41.00" height="44.20" fill="#aeae00"/>
<rect x="1811.10" y="1119.70" width="41.00" height="44.20" fill="#000043"/>
<rect x="1855.10" y="1119.70" width="41.00" height="44.20" fill="#000028"/>
<rect x="1899.10" y="1119.70" width="41.00" height="44.20" fill="#000043"/>
<rect x="1943.10" y="1119.70" width="41.00" height="44.20" fill="#0d0d00"/>
<rect x="1987.10" y="1119.70" width="41.00" height="44.20" fill="#0d0d00"/>
<rect x="2031.10" y="1119.70" width="41.00" height="44.20" fill="#0d0d00"/>
<rect x="2075.10" y="1119.70" width="41.00" height="44.20" fill="#00000d"/>
<rect x="2119.10" y="1119.70" width="41.00" height="44.20" fill="#00000d"/>
<rect x="2163.10" y="1119.70" width="41.00" height="44.20" fill="#000094"/>
<rect x="2207.10" y="1119.70" width="41.00" height="44.20" fill="#000079"/>
<rect x="2251.10" y="1119.70" width="41.00" height="44.20" fill="#00005e"/>
<rect x="1503.10" y="1166.90" width="41.00" height="44.20" fill="#dcdcdc"/>
<rect x="1547.10" y="1166.90" width="41.00" height="44.20" fill="#949400"/>
<rect x="1591.10" y="1166.90" width="41.00" height="44.20" fill="#797900"/>
<rect x="1635.10" y="1166.90" width="41.00" height="44.20" fill="#949400"/>
<rect x="1679.10" y="1166.90" width="41.00" height="44.20" fill="#dcdcdc"/>
<rect x="1723.10" y="1166.90" width="41.00" height="44.20" fill="#aeae00"/>
<rect x="1767.10" y="1166.90" width="41.00" height="44.20" fill="#dcdcdc"/>
<rect x="1811.10" y="1166.90" width="41.00" height="44.20" fill="#00005e"/>
<rect x="1855.10" y="1166.90" width="41.00" height="44.20" fill="#dcdcdc"/>
<rect x="1899.10" y="1166.90" width="41.00" height="44.20" fill="#00000d"/>
<rect x="1943.10" y="1166.90" width="41.00" height="44.20" fill="#dcdcdc"/>
<rect x="1987.10" y="1166.90" width="41.00" height="44.20" fill="#00000d"/>
<rect x="2031.10" y="1166.90" width="41.00" height="44.20" fill="#0d0d00"/>
<rect x="2075.10" y="1166.90" width="41.00" height="44.20" fill="#282800"/>
<rect x="2119.10" y="1166.90" width="41.00" height="44.20" fill="#434300"/>
<rect x="2163.10" y="1166.90" width="41.00" height="44.20" fill="#dcdcdc"/>
<rect x="2207.10" y="1166.90" width="41.00" height="44.20" fill="#dcdcdc"/>
<rect x="2251.10" y="1166.90" width="41.00" height="44.20" fill="#282800"/>
<rect x="1503.10" y="1214.10" width="41.00" height="44.20" fill="#00000d"/>
<rect x="1547.10" y="1214.10" width="41.00" height="44.20" fill="#0000e4"/>
<rect x="1591.10" y="1214.10" width="41.00" height="44.20" fill="#5e5e00"/>
<rect x="1635.10" y="1214.10" width="41.00" height="44.20" fill="#282800"/>
<rect x="1679.10" y="1214.10" width="41.00" height="44.20" fill="#0d0d00"/>
<rect x="1723.10" y="1214.10" width="41.00" height="44.20" fill="#00000d"/>
<rect x="1767.10" y="1214.10" width="41.00" height="44.20" fill="#000028"/>
<rect x="1811.10" y="1214.10" width="41.00" height="44.20" fill="#797900"/>
<rect x="1855.10" y="1214.10" width="41.00" height="44.20" fill="#797900"/>
<rect x="1899.10" y="1214.10" width="41.00" height="44.20" fill="#5e5e00"/>
<rect x="1943.10" y="1214.10" width="41.00" height="44.20" fill="#5e5e00"/>
<rect x="1987.10" y="1214.10" width="41.00" height="44.20" fill="#0d0d00"/>
<rect x="2031.10" y="1214.10" width="41.00" height="44.20" fill="#434300"/>
<rect x="2075.10" y="1214.10" width="41.00" height="44.20" fill="#434300"/>
<rect x="2119.10" y="1214.10" width="41.00" height="44.20" fill="#5e5e00"/>
<rect x="2163.10" y="1214.10" width="41.00" height="44.20" fill="#0d0d00"/>
<rect x="2207.10" y="1214.10" width="41.00" height="44.20" fill="#0d0d00"/>
<rect x="2251.10" y="1214.10" width="41.00" height="44.20" fill="#0d0d00"/>
<rect x="1503.10" y="1261.30" width="41.00" height="44.20" fill="#0000c9"/>
<rect x="1547.10" y="1261.30" width="41.00" height="44.20" fill="#0d0d00"/>
<rect x="1591.10" y="1261.30" width="41.00" height="44.20" fill="#282800"/>
<rect x="1635.10" y="1261.30" width="41.00" height="44.20" fill="#0d0d00"/>
<rect x="1679.10" y="1261.30" width="41.00" height="44.20" fill="#000043"/>
<rect x="1723.10" y="1261.30" width="41.00" height="44.20" fill="#00000d"/>
<rect x="1767.10" y="1261.30" width="41.00" height="44.20" fill="#00000d"/>
<rect x="1811.10" y="1261.30" width="41.00" height="44.20" fill="#797900"/>
<rect x="1855.10" y="1261.30" width="41.00" height="44.20" fill="#949400"/>
<rect x="1899.10" y="1261.30" width="41.00" height="44.20" fill="#949400"/>
<rect x="1943.10" y="1261.30" width="41.00" height="44.20" fill="#434300"/>
<rect x="1987.10" y="1261.30" width="41.00" height="44.20" fill="#434300"/>
<rect x="2031.10" y="1261.30" width="41.00" height="44.20" fill="#5e5e00"/>
<rect x="2075.10" y="1261.30" width="41.00" height="44.20" fill="#797900"/>
<rect x="2119.10" y="1261.30" width="41.00" height="44.20" fill="#434300"/>
<rect x="2163.10" y="1261.30" width="41.00" height="44.20" fill="#282800"/>
<rect x="2207.10" y="1261.30" width="41.00" height="44.20" fill="#434300"/>
<rect x="2251.10" y="1261.30" width="41.00" height="44.20" fill="#434300"/>
<rect x="1503.10" y="1308.50" width="41.00" height="44.20" fill="#0d0d00"/>
<rect x="1547.10" y="1308.50" width="41.00" height="44.20" fill="#5e5e00"/>
<rect x="1591.10" y="1308.50" width="41.00" height="44.20" fill="#0d0d00"/>
<rect x="1635.10" y="1308.50" width="41.00" height="44.20" fill="#282800"/>
<rect x="1679.10" y="1308.50" width="41.00" height="44.20" fill="#434300"/>
<rect x="1723.10" y="1308.50" width="41.00" height="44.20" fill="#434300"/>
<rect x="1767.10" y="1308.50" width="41.00" height="44.20" fill="#434300"/>
<rect x="1811.10" y="1308.50" width="41.00" height="44.20" fill="#434300"/>
<rect x="1855.10" y="1308.50" width="41.00" height="44.20" fill="#434300"/>
<rect x="1899.10" y="1308.50" width="41.00" height="44.20" fill="#434300"/>
<rect x="1943.10" y="1308.50" width="41.00" height="44.20" fill="#434300"/>
<rect x="1987.10" y="1308.50" width="41.00" height="44.20" fill="#434300"/>
<rect x="2031.10" y="1308.50" width="41.00" height="44.20" fill="#434300"/>
<rect x="2075.10" y="1308.50" width="41.00" height="44.20" fill="#434300"/>
<rect x="2119.10" y="1308.50" width="41.00" height="44.20" fill="#434300"/>
<rect x="2163.10" y="1308.50" width="41.00" height="44.20" fill="#797900"/>
<rect x="2207.10" y="1308.50" width="41.00" height="44.20" fill="#797900"/>
<rect x="2251.10" y="1308.50" width="41.00" height="44.20" fill="#5e5e00"/>
<rect x="1503.10" y="1355.70" width="41.00" height="44.20" fill="#434300"/>
<rect x="1547.10" y="1355.70" width="41.00" height="44.20" fill="#282800"/>
<rect x="1591.10" y="1355.70" width="41.00" height="44.20" fill="#434300"/>
<rect x="1635.10" y="1355.70" width="41.00" height="44.20" fill="#434300"/>
<rect x="1679.10" y="1355.70" width="41.00" height="44.20" fill="#5e5e00"/>
<rect x="1723.10" y="1355.70" width="41.00" height="44.20" fill="#434300"/>
<rect x="1767.10" y="1355.70" width="41.00" height="44.20" fill="#5e5e00"/>
<rect x="1811.10" y="1355.70" width="41.00" height="44.20" fill="#282800"/>
<rect x="1855.10" y="1355.70" width="41.00" height="44.20" fill="#434300"/>
<rect x="1899.10" y="1355.70" width="41.00" height="44.20" fill="#434300"/>
<rect x="1943.10" y="1355.70" width="41.00" height="44.20" fill="#434300"/>
<rect x="1987.10" y="1355.70" width="41.00" height="44.20" fill="#282800"/>
<rect x="2031.10" y="1355.70" width="41.00" height="44.20" fill="#282800"/>
<rect x="2075.10" y="1355.70" width="41.00" height="44.20" fill="#282800"/>
<rect x="2119.10" y="1355.70" width="41.00" height="44.20" fill="#434300"/>
<rect x="2163.10" y="1355.70" width="41.00" height="44.20" fill="#5e5e00"/>
<rect x="2207.10" y="1355.70" width="41.00" height="44.20" fill="#434300"/>
<rect x="2251.10" y="1355.70" width="41.00" height="44.20" fill="#434300"/>
<rect x="1503.10" y="1402.90" width="41.00" height="44.20" fill="#434300"/>
<rect x="1547.10" y="1402.90" width="41.00" height="44.20" fill="#282800"/>
<rect x="1591.10" y="1402.90" width="41.00" height="44.20" fill="#434300"/>
<rect x="1635.10" y="1402.90" width="41.00" height="44.20" fill="#434300"/>
<rect x="1679.10" y="1402.90" width="41.00" height="44.20" fill="#282800"/>
<rect x="1723.10" y="1402.90" width="41.00" height="44.20" fill="#282800"/>
<rect x="1767.10" y="1402.90" width="41.00" height="44.20" fill="#282800"/>
<rect x="1811.10" y="1402.90" width="41.00" height="44.20" fill="#5e5e00"/>
<rect x="1855.10" y="1402.90" width="41.00" height="44.20" fill="#797900"/>
<rect x="1899.10" y="1402.90" width="41.00" height="44.20" fill="#797900"/>
<rect x="1943.10" y="1402.90" width="41.00" height="44.20" fill="#282800"/>
<rect x="1987.10" y="1402.90" width="41.00" height="44.20" fill="#434300"/>
<rect x="2031.10" y="1402.90" width="41.00" height="44.20" fill="#282800"/>
<rect x="2075.10" y="1402.90" width="41.00" height="44.20" fill="#434300"/>
<rect x="2119.10" y="1402.90" width="41.00" height="44.20" fill="#434300"/>
<rect x="2163.10" y="1402.90" width="41.00" height="44.20" fill="#282800"/>
<rect x="2207.10" y="1402.90" width="41.00" height="44.20" fill="#434300"/>
<rect x="2251.10" y="1402.90" width="41.00" height="44.20" fill="#434300"/>
<rect x="1503.10" y="1450.10" width="41.00" height="44.20" fill="#282800"/>
<rect x="1547.10" y="1450.10" width="41.00" height="44.20" fill="#282800"/>
<rect x="1591.10" y="1450.10" width="41.00" height="44.20" fill="#282800"/>
<rect x="1635.10" y="1450.10" width="41.00" height="44.20" fill="#282800"/>
<rect x="1679.10" y="1450.10" width="41.00" height="44.20" fill="#282800"/>
<rect x="1723.10" y="1450.10" width="41.00" height="44.20" fill="#282800"/>
<rect x="1767.10" y="1450.10" width="41.00" height="44.20" fill="#282800"/>
<rect x="1811.10" y="1450.10" width="41.00" height="44.20" fill="#434300"/>
<rect x="1855.10" y="1450.10" width="41.00" height="44.20" fill="#5e5e00"/>
<rect x="1899.10" y="1450.10" width="41.00" height="44.20" fill="#434300"/>
<rect x="1943.10" y="1450.10" width="41.00" height="44.20" fill="#5e5e00"/>
<rect x="1987.10" y="1450.10" width="41.00" height="44.20" fill="#5e5e00"/>
<rect x="2031.10" y="1450.10" width="41.00" height="44.20" fill="#5e5e00"/>
<rect x="2075.10" y="1450.10" width="41.00" height="44.20" fill="#5e5e00"/>
<rect x="2119.10" y="1450.10" width="41.00" height="44.20" fill="#434300"/>
<rect x="2163.10" y="1450.10" width="41.00" height="44.20" fill="#434300"/>
<rect x="2207.10" y="1450.10" width="41.00" height="44.20" fill="#434300"/>
<rect x="2251.10" y="1450.10" width="41.00" height="44.20" fill="#434300"/>
<rect x="1503.10" y="1497.30" width="41.00" height="44.20" fill="#282800"/>
<rect x="1547.10" y="1497.30" width="41.00" height="44.20" fill="#0d0d00"/>
<rect x="1591.10" y="1497.30" width="41.00" height="44.20" fill="#000028"/>
<rect x="1635.10" y="1497.30" width="41.00" height="44.20" fill="#282800"/>
<rect x="1679.10" y="1497.30" width="41.00" height="44.20" fill="#282800"/>
<rect x="1723.10" y="1497.30" width="41.00" height="44.20" fill="#0d0d00"/>
<rect x="1767.10" y="1497.30" width="41.00" height="44.20" fill="#0d0d00"/>
<rect x="1811.10" y="1497.30" width="41.00" height="44.20" fill="#797900"/>
<rect x="1855.10" y="1497.30" width="41.00" height="44.20" fill="#949400"/>
<rect x="1899.10" y="1497.30" width="41.00" height="44.20" fill="#949400"/>
<rect x="1943.10" y="1497.30" width="41.00" height="44.20" fill="#5e5e00"/>
<rect x="1987.10" y="1497.30" width="41.00" height="44.20" fill="#434300"/>
<rect x="2031.10" y="1497.30" width="41.00" height="44.20" fill="#5e5e00"/>
<rect x="2075.10" y="1497.30" width="41.00" height="44.20" fill="#5e5e00"/>
<rect x="2119.10" y="1497.30" width="41.00" height="44.20" fill="#5e5e00"/>
<rect x="2163.10" y="1497.30" width="41.00" height="44.20" fill="#e4e400"/>
<rect x="2207.10" y="1497.30" width="41.00" height="44.20" fill="#c9c900"/>
<rect x="2251.10" y="1497.30" width="41.00" height="44.20" fill="#aeae00"/>
<rect x="1503.10" y="1544.50" width="41.00" height="44.20" fill="#000043"/>
<rect x="1547.10" y="1544.50" width="41.00" height="44.20" fill="#282800"/>
<rect x="1591.10" y="1544.50" width="41.00" height="44.20" fill="#00000d"/>
<rect x="1635.10" y="1544.50" width="41.00" height="44.20" fill="#000028"/>
<rect x="1679.10" y="1544.50" width="41.00" height="44.20" fill="#00000d"/>
<rect x="1723.10" y="1544.50" width="41.00" height="44.20" fill="#00000d"/>
<rect x="1767.10" y="1544.50" width="41.00" height="44.20" fill="#00000d"/>
<rect x="1811.10" y="1544.50" width="41.00" height="44.20" fill="#797900"/>
<rect x="1855.10" y="1544.50" width="41.00" height="44.20" fill="#aeae00"/>
<rect x="1899.10" y="1544.50" width="41.00" height="44.20" fill="#797900"/>
<rect x="1943.10" y="1544.50" width="41.00" height="44.20" fill="#c9c900"/>
<rect x="1987.10" y="1544.50" width="41.00" height="44.20" fill="#5e5e00"/>
<rect x="2031.10" y="1544.50" width="41.00" height="44.20" fill="#aeae00"/>
<rect x="2075.10" y="1544.50" width="41.00" height="44.20" fill="#797900"/>
<rect x="2119.10" y="1544.50" width="41.00" height="44.20" fill="#949400"/>
<rect x="2163.10" y="1544.50" width="41.00" height="44.20" fill="#949400"/>
<rect x="2207.10" y="1544.50" width="41.00" height="44.20" fill="#aeae00"/>
<rect x="2251.10" y="1544.50" width="41.00" height="44.20" fill="#797900"/>
<rect x="1503.10" y="1591.70" width="41.00" height="44.20" fill="#000028"/>
<rect x="1547.10" y="1591.70" width="41.00" height="44.20" fill="#282800"/>
<rect x="1591.10" y="1591.70" width="41.00" height="44.20" fill="#00000d"/>
<rect x="1635.10" y="1591.70" width="41.00" height="44.20" fill="#000028"/>
<rect x="1679.10" y="1591.70" width="41.00" height="44.20" fill="#00000d"/>
<rect x="1723.10" y="1591.70" width="41.00" height="44.20" fill="#00000d"/>
<rect x="1767.10" y="1591.70" width="41.00" height="44.20" fill="#00000d"/>
<rect x="1811.10" y="1591.70" width="41.00" height="44.20" fill="#797900"/>
<rect x="1855.10" y="1591.70" width="41.00" height="44.20" fill="#797900"/>
<rect x="1899.10" y="1591.70" width="41.00" height="44.20" fill="#5e5e00"/>
<rect x="1943.10" y="1591.70" width="41.00" height="44.20" fill="#797900"/>
<rect x="1987.10" y="1591.70" width="41.00" height="44.20" fill="#797900"/>
<rect x="2031.10" y="1591.70" width="41.00" height="44.20" fill="#949400"/>
<rect x="2075.10" y="1591.70" width="41.00" height="44.20" fill="#797900"/>
<rect x="2119.10" y="1591.70" width="41.00" height="44.20" fill="#797900"/>
<rect x="2163.10" y="1591.70" width="41.00" height="44.20" fill="#797900"/>
<rect x="2207.10" y="1591.70" width="41.00" height="44.20" fill="#797900"/>
<rect x="2251.10" y="1591.70" width="41.00" height="44.20" fill="#797900"/>
<rect x="1503.10" y="1638.90" width="41.00" height="44.20" fill="#000028"/>
<rect x="1547.10" y="1638.90" width="41.00" height="44.20" fill="#282800"/>
<rect x="1591.10" y="1638.90" width="41.00" height="44.20" fill="#0d0d00"/>
<rect x="1635.10" y="1638.90" width="41.00" height="44.20" fill="#00000d"/>
<rect x="1679.10" y="1638.90" width="41.00" height="44.20" fill="#000028"/>
<rect x="1723.10" y="1638.90" width="41.00" height="44.20" fill="#00000d"/>
<rect x="1767.10" y="1638.90" width="41.00" height="44.20" fill="#000043"/>
<rect x="1811.10" y="1638.90" width="41.00" height="44.20" fill="#797900"/>
<rect x="1855.10" y="1638.90" width="41.00" height="44.20" fill="#aeae00"/>
<rect x="1899.10" y="1638.90" width="41.00" height="44.20" fill="#797900"/>
<rect x="1943.10" y="1638.90" width="41.00" height="44.20" fill="#5e5e00"/>
<rect x="1987.10" y="1638.90" width="41.00" height="44.20" fill="#797900"/>
<rect x="2031.10" y="1638.90" width="41.00" height="44.20" fill="#949400"/>
<rect x="2075.10" y="1638.90" width="41.00" height="44.20" fill="#949400"/>
<rect x="2119.10" y="1638.90" width="41.00" height="44.20" fill="#797900"/>
<rect x="2163.10" y="1638.90" width="41.00" height="44.20" fill="#5e5e00"/>
<rect x="2207.10" y="1638.90" width="41.00" height="44.20" fill="#797900"/>
<rect x="2251.10" y="1638.90" width="41.00" height="44.20" fill="#797900"/>
<rect x="1503.10" y="1686.10" width="41.00" height="44.20" fill="#434300"/>
<rect x="1547.10" y="1686.10" width="41.00" height="44.20" fill="#5e5e00"/>
<rect x="1591.10" y="1686.10" width="41.00" height="44.20" fill="#0d0d00"/>
<rect x="1635.10" y="1686.10" width="41.00" height="44.20" fill="#0d0d00"/>
<rect x="1679.10" y="1686.10" width="41.00" height="44.20" fill="#282800"/>
<rect x="1723.10" y="1686.10" width="41.00" height="44.20" fill="#0d0d00"/>
<rect x="1767.10" y="1686.10" width="41.00" height="44.20" fill="#0d0d00"/>
<rect x="1811.10" y="1686.10" width="41.00" height="44.20" fill="#5e5e00"/>
<rect x="1855.10" y="1686.10" width="41.00" height="44.20" fill="#797900"/>
<rect x="1899.10" y="1686.10" width="41.00" height="44.20" fill="#434300"/>
<rect x="1943.10" y="1686.10" width="41.00" height="44.20" fill="#5e5e00"/>
<rect x="1987.10" y="1686.10" width="41.00" height="44.20" fill="#797900"/>
<rect x="2031.10" y="1686.10" width="41.00" height="44.20" fill="#797900"/>
<rect x="2075.10" y="1686.10" width="41.00" height="44.20" fill="#797900"/>
<rect x="2119.10" y="1686.10" width="41.00" height="44.20" fill="#5e5e00"/>
<rect x="2163.10" y="1686.10" width="41.00" height="44.20" fill="#434300"/>
<rect x="2207.10" y="1686.10" width="41.00" height="44.20" fill="#797900"/>
<rect x="2251.10" y="1686.10" width="41.00" height="44.20" fill="#5e5e00"/>
<rect x="1503.10" y="1733.30" width="41.00" height="44.20" fill="#0d0d00"/>
<rect x="1547.10" y="1733.30" width="41.00" height="44.20" fill="#0d0d00"/>
<rect x="1591.10" y="1733.30" width="41.00" height="44.20" fill="#282800"/>
<rect x="1635.10" y="1733.30" width="41.00" height="44.20" fill="#0d0d00"/>
<rect x="1679.10" y="1733.30" width="41.00" height="44.20" fill="#0d0d00"/>
<rect x="1723.10" y="1733.30" width="41.00" height="44.20" fill="#0d0d00"/>
<rect x="1767.10" y="1733.30" width="41.00" height="44.20" fill="#00000d"/>
<rect x="1811.10" y="1733.30" width="41.00" height="44.20" fill="#797900"/>
<rect x="1855.10" y="1733.30" width="41.00" height="44.20" fill="#797900"/>
<rect x="1899.10" y="1733.30" width="41.00" height="44.20" fill="#5e5e00"/>
<rect x="1943.10" y="1733.30" width="41.00" height="44.20" fill="#5e5e00"/>
<rect x="1987.10" y="1733.30" width="41.00" height="44.20" fill="#797900"/>
<rect x="2031.10" y="1733.30" width="41.00" height="44.20" fill="#5e5e00"/>
<rect x="2075.10" y="1733.30" width="41.00" height="44.20" fill="#797900"/>
<rect x="2119.10" y="1733.30" width="41.00" height="44.20" fill="#434300"/>
<rect x="2163.10" y="1733.30" width="41.00" height="44.20" fill="#5e5e00"/>
<rect x="2207.10" y="1733.30" width="41.00" height="44.20" fill="#5e5e00"/>
<rect x="2251.10" y="1733.30" width="41.00" height="44.20" fill="#5e5e00"/>
<rect x="1503.10" y="1780.50" width="41.00" height="44.20" fill="#00000d"/>
<rect x="1547.10" y="1780.50" width="41.00" height="44.20" fill="#282800"/>
<rect x="1591.10" y="1780.50" width="41.00" height="44.20" fill="#0d0d00"/>
<rect x="1635.10" y="1780.50" width="41.00" height="44.20" fill="#00000d"/>
<rect x="1679.10" y="1780.50" width="41.00" height="44.20" fill="#00000d"/>
<rect x="1723.10" y="1780.50" width="41.00" height="44.20" fill="#0d0d00"/>
<rect x="1767.10" y="1780.50" width="41.00" height="44.20" fill="#00000d"/>
<rect x="1811.10" y="1780.50" width="41.00" height="44.20" fill="#5e5e00"/>
<rect x="1855.10" y="1780.50" width="41.00" height="44.20" fill="#797900"/>
<rect x="1899.10" y="1780.50" width="41.00" height="44.20" fill="#5e5e00"/>
<rect x="1943.10" y="1780.50" width="41.00" height="44.20" fill="#797900"/>
<rect x="1987.10" y="1780.50" width="41.00" height="44.20" fill="#5e5e00"/>
<rect x="2031.10" y="1780.50" width="41.00" height="44.20" fill="#797900"/>
<rect x="2075.10" y="1780.50" width="41.00" height="44.20" fill="#5e5e00"/>
<rect x="2119.10" y="1780.50" width="41.00" height="44.20" fill="#797900"/>
<rect x="2163.10" y="1780.50" width="41.00" height="44.20" fill="#5e5e00"/>
<rect x="2207.10" y="1780.50" width="41.00" height="44.20" fill="#797900"/>
<rect x="2251.10" y="1780.50" width="41.00" height="44.20" fill="#5e5e00"/>
<rect x="1503.10" y="1827.70" width="41.00" height="44.20" fill="#00000d"/>
<rect x="1547.10" y="1827.70" width="41.00" height="44.20" fill="#282800"/>
<rect x="1591.10" y="1827.70" width="41.00" height="44.20" fill="#0d0d00"/>
<rect x="1635.10" y="1827.70" width="41.00" height="44.20" fill="#00000d"/>
<rect x="1679.10" y="1827.70" width="41.00" height="44.20" fill="#00000d"/>
<rect x="1723.10" y="1827.70" width="41.00" height="44.20" fill="#00000d"/>
<rect x="1767.10" y="1827.70" width="41.00" height="44.20" fill="#000043"/>
<rect x="1811.10" y="1827.70" width="41.00" height="44.20" fill="#797900"/>
<rect x="1855.10" y="1827.70" width="41.00" height="44.20" fill="#797900"/>
<rect x="1899.10" y="1827.70" width="41.00" height="44.20" fill="#434300"/>
<rect x="1943.10" y="1827.70" width="41.00" height="44.20" fill="#5e5e00"/>
<rect x="1987.10" y="1827.70" width="41.00" height="44.20" fill="#5e5e00"/>
<rect x="2031.10" y="1827.70" width="41.00" height="44.20" fill="#797900"/>
<rect x="2075.10" y="1827.70" width="41.00" height="44.20" fill="#797900"/>
<rect x="2119.10" y="1827.70" width="41.00" height="44.20" fill="#5e5e00"/>
<rect x="2163.10" y="1827.70" width="41.00" height="44.20" fill="#434300"/>
<rect x="2207.10" y="1827.70" width="41.00" height="44.20" fill="#797900"/>
<rect x="2251.10" y="1827.70" width="41.00" height="44.20" fill="#5e5e00"/>
<path d="M1743.60,1069.75V1052.60H1787.60V1069.75M1699.60,1069.75V1045.70H1765.60V1052.60M1655.60,1069.75V1026.70H1732.60V1045.70M1611.60,1069.75V1024.70H1694.10V1026.70M1567.60,1069.75V982.20H1652.85V1024.70M1523.60,1069.75V935.80H1610.22V982.20M1875.60,1069.75V1044.60H1919.60V1069.75M1831.60,1069.75V1043.00H1897.60V1044.60M2095.60,1069.75V1051.80H2139.60V1069.75M2051.60,1069.75V1048.60H2117.60V1051.80M2007.60,1069.75V1041.80H2084.60V1048.60M1963.60,1069.75V1030.50H2046.10V1041.80M1864.60,1043.00V1016.30H2004.85V1030.50M2227.60,1069.75V1058.00H2271.60V1069.75M2183.60,1069.75V1047.60H2249.60V1058.00M1934.72,1016.30V1001.60H2216.60V1047.60M1566.91,935.80V922.40H2075.66V1001.60" fill="none" stroke="#000" stroke-width="2.4" stroke-linejoin="round" stroke-linecap="butt"/>
<path d="M1500.35,1141.80H1462.00V1189.00H1500.35M1500.35,1094.60H1435.00V1165.40H1462.00M1500.35,1236.20H1450.50V1283.40H1500.35M1500.35,1330.60H1483.30V1377.80H1500.35M1500.35,1425.00H1487.80V1472.20H1500.35M1483.30,1354.20H1480.00V1448.60H1487.80M1450.50,1259.80H1444.30V1401.40H1480.00M1500.35,1613.80H1488.80V1661.00H1500.35M1500.35,1566.60H1478.80V1637.40H1488.80M1500.35,1802.60H1496.00V1849.80H1500.35M1500.35,1755.40H1489.50V1826.20H1496.00M1500.35,1708.20H1482.90V1790.80H1489.50M1478.80,1602.00H1466.20V1749.50H1482.90M1500.35,1519.40H1464.30V1675.75H1466.20M1444.30,1330.60H1437.80V1597.58H1464.30M1435.00,1130.00H1353.20V1464.09H1437.80" fill="none" stroke="#000" stroke-width="2.4" stroke-linejoin="round" stroke-linecap="butt"/>
<text transform="translate(2302.50,1105.30) scale(1,1.06)" font-size="34" font-style="italic">PITG_06955</text>
<text transform="translate(2302.50,1152.50) scale(1,1.06)" font-size="34" font-style="italic">PITG_06950</text>
<text transform="translate(2302.50,1199.70) scale(1,1.06)" font-size="34" font-style="italic">PITG_04387</text>
<text transform="translate(2302.50,1246.90) scale(1,1.06)" font-size="34" font-style="italic">PITG_05391</text>
<text transform="translate(2302.50,1294.10) scale(1,1.06)" font-size="34" font-style="italic">PITG_05675</text>
<text transform="translate(2302.50,1341.30) scale(1,1.06)" font-size="34" font-style="italic">PITG_21568</text>
<text transform="translate(2302.50,1388.50) scale(1,1.06)" font-size="34" font-style="italic">PITG_06953</text>
<text transform="translate(2302.50,1435.70) scale(1,1.06)" font-size="34" font-style="italic">PITG_02527</text>
<text transform="translate(2302.50,1482.90) scale(1,1.06)" font-size="34" font-style="italic">PITG_13828</text>
<text transform="translate(2302.50,1530.10) scale(1,1.06)" font-size="34" font-style="italic">PITG_20725</text>
<text transform="translate(2302.50,1577.30) scale(1,1.06)" font-size="34" font-style="italic">PITG_03551</text>
<text transform="translate(2302.50,1624.50) scale(1,1.06)" font-size="34" font-style="italic">PITG_03611</text>
<text transform="translate(2302.50,1671.70) scale(1,1.06)" font-size="34" font-style="italic">PITG_03550</text>
<text transform="translate(2302.50,1718.90) scale(1,1.06)" font-size="34" font-style="italic">PITG_03881</text>
<text transform="translate(2302.50,1766.10) scale(1,1.06)" font-size="34" font-style="italic">PITG_05676</text>
<text transform="translate(2302.50,1813.30) scale(1,1.06)" font-size="34" font-style="italic">PITG_03882</text>
<text transform="translate(2302.50,1860.50) scale(1,1.06)" font-size="34" font-style="italic">PITG_03552</text>
<text transform="translate(1514.20,1883.00) rotate(90) scale(1,1.06)" font-size="34">Sw1</text>
<text transform="translate(1558.20,1883.00) rotate(90) scale(1,1.06)" font-size="34">Pink 6</text>
<text transform="translate(1602.20,1883.00) rotate(90) scale(1,1.06)" font-size="34">Sw1-Sw2</text>
<text transform="translate(1646.20,1883.00) rotate(90) scale(1,1.06)" font-size="34">Sw1-Sw4</text>
<text transform="translate(1690.20,1883.00) rotate(90) scale(1,1.06)" font-size="34">Sw1-IPO82001</text>
<text transform="translate(1734.20,1883.00) rotate(90) scale(1,1.06)" font-size="34">Pink 6-3928A</text>
<text transform="translate(1778.20,1883.00) rotate(90) scale(1,1.06)" font-size="34">IPO82001</text>
<text transform="translate(1822.20,1883.00) rotate(90) scale(1,1.06)" font-size="34">3928A</text>
<text transform="translate(1866.20,1883.00) rotate(90) scale(1,1.06)" font-size="34">Sw3-IPO82001</text>
<text transform="translate(1910.20,1883.00) rotate(90) scale(1,1.06)" font-size="34">Sw3</text>
<text transform="translate(1954.20,1883.00) rotate(90) scale(1,1.06)" font-size="34">Sw4</text>
<text transform="translate(1998.20,1883.00) rotate(90) scale(1,1.06)" font-size="34">F80029</text>
<text transform="translate(2042.20,1883.00) rotate(90) scale(1,1.06)" font-size="34">F80029-Sw4</text>
<text transform="translate(2086.20,1883.00) rotate(90) scale(1,1.06)" font-size="34">F80029-IPO82001</text>
<text transform="translate(2130.20,1883.00) rotate(90) scale(1,1.06)" font-size="34">Sw3-Sw4</text>
<text transform="translate(2174.20,1883.00) rotate(90) scale(1,1.06)" font-size="34">Sw2</text>
<text transform="translate(2218.20,1883.00) rotate(90) scale(1,1.06)" font-size="34">F80029-Sw2</text>
<text transform="translate(2262.20,1883.00) rotate(90) scale(1,1.06)" font-size="34">Sw3-Sw2</text>
<rect x="1266.80" y="1220.20" width="28.50" height="21.46" fill="#ffff00"/>
<rect x="1266.80" y="1241.36" width="28.50" height="21.46" fill="#e4e400"/>
<rect x="1266.80" y="1262.52" width="28.50" height="21.46" fill="#c9c900"/>
<rect x="1266.80" y="1283.68" width="28.50" height="21.46" fill="#aeae00"/>
<rect x="1266.80" y="1304.84" width="28.50" height="21.46" fill="#949400"/>
<rect x="1266.80" y="1326.00" width="28.50" height="21.46" fill="#797900"/>
<rect x="1266.80" y="1347.16" width="28.50" height="21.46" fill="#5e5e00"/>
<rect x="1266.80" y="1368.32" width="28.50" height="21.46" fill="#434300"/>
<rect x="1266.80" y="1389.48" width="28.50" height="21.46" fill="#282800"/>
<rect x="1266.80" y="1410.64" width="28.50" height="21.46" fill="#0d0d00"/>
<rect x="1266.80" y="1431.80" width="28.50" height="21.46" fill="#00000d"/>
<rect x="1266.80" y="1452.96" width="28.50" height="21.46" fill="#000028"/>
<rect x="1266.80" y="1474.12" width="28.50" height="21.46" fill="#000043"/>
<rect x="1266.80" y="1495.28" width="28.50" height="21.46" fill="#00005e"/>
<rect x="1266.80" y="1516.44" width="28.50" height="21.46" fill="#000079"/>
<rect x="1266.80" y="1537.60" width="28.50" height="21.46" fill="#000094"/>
<rect x="1266.80" y="1558.76" width="28.50" height="21.46" fill="#0000ae"/>
<rect x="1266.80" y="1579.92" width="28.50" height="21.46" fill="#0000c9"/>
<rect x="1266.80" y="1601.08" width="28.50" height="21.46" fill="#0000e4"/>
<rect x="1266.80" y="1622.24" width="28.50" height="21.46" fill="#0000ff"/>
<text transform="translate(1306.90,1303.93) scale(1,1.06)" font-size="34">2</text>
<text transform="translate(1306.90,1390.23) scale(1,1.06)" font-size="34">0</text>
<text transform="translate(1306.90,1475.53) scale(1,1.06)" font-size="34">-2</text>
<text transform="translate(1306.90,1560.53) scale(1,1.06)" font-size="34">-4</text>
<text transform="translate(1306.90,1645.73) scale(1,1.06)" font-size="34">-6</text>
<text transform="translate(1281.9,980.6) scale(1,1.09)" font-size="43" font-weight="bold">D</text>
<path d="M1495.90,2145.00A10.50,49.90 0 0 0 1506.40,2194.90H1644.40A10.00,49.90 0 0 1 1654.40,2244.80A10.00,49.90 0 0 1 1664.40,2194.90H1802.10A10.50,49.90 0 0 0 1812.60,2145.00" fill="none" stroke="#000" stroke-width="3.7" stroke-linecap="butt" stroke-linejoin="round"/>
<path d="M1817.30,2145.40A16.00,49.50 0 0 0 1833.30,2194.90H2038.80A17.00,48.70 0 0 1 2055.80,2243.60A17.00,48.70 0 0 1 2072.80,2194.90H2279.20A16.00,49.90 0 0 0 2295.20,2145.00" fill="none" stroke="#000" stroke-width="3.7" stroke-linecap="butt" stroke-linejoin="round"/>
<text transform="translate(1570.50,2294.70) scale(1,1.04)" font-size="42.5" font-weight="bold">Cluster A</text>
<text transform="translate(1961.50,2293.50) scale(1,1.04)" font-size="42.5" font-weight="bold">Cluster B</text>
</svg>
</body></html>
